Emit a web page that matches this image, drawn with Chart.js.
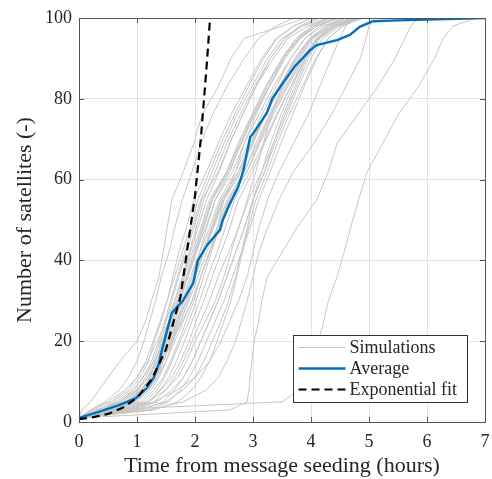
<!DOCTYPE html>
<html>
<head>
<meta charset="utf-8">
<script src="https://cdn.jsdelivr.net/npm/chart.js@4.4.0/dist/chart.umd.min.js"></script>
<style>
  html, body { margin: 0; padding: 0; background: #fff; }
</style>
</head>
<body>
<canvas id="chart" width="492" height="479"></canvas>
<script>
// axis ticks
const X_TICKS = [0, 1, 2, 3, 4, 5, 6, 7];
const Y_TICKS = [0, 20, 40, 60, 80, 100];

// satellite counts at which each simulation time is read
const LEVELS = [1, 3, 5, 8, 11, 15, 20, 25, 30, 36, 42, 48, 55, 62, 69, 76, 83, 90, 95, 98, 100];

// time (hours) at which each simulation reaches LEVELS[i]
const SIM_TIMES = [
  [0, 0.05, 0.2, 0.35, 0.5, 0.7, 1.0, 1.15, 1.25, 1.38, 1.45, 1.52, 1.6, 1.8, 1.98, 2.12, 2.4, 2.62, 2.85, 3.5, 3.9],
  [0, 0.2, 0.45, 0.7, 0.85, 1.0, 1.12, 1.22, 1.32, 1.42, 1.55, 1.65, 1.78, 1.95, 2.1, 2.3, 2.55, 2.85, 3.1, 3.4, 3.7],
  [0, 0.35, 0.6, 0.9, 1.05, 1.2, 1.3, 1.42, 1.52, 1.62, 1.72, 1.85, 1.98, 2.2, 2.4, 2.62, 2.88, 3.15, 3.4, 3.7, 4.0],
  [0, 0.5, 0.9, 1.1, 1.22, 1.32, 1.42, 1.5, 1.6, 1.72, 1.85, 1.98, 2.12, 2.4, 2.6, 2.82, 3.05, 3.35, 3.6, 3.95, 4.3],
  [0, 0.3, 0.75, 1.0, 1.15, 1.28, 1.4, 1.55, 1.68, 1.82, 1.95, 2.1, 2.25, 2.55, 2.78, 3.0, 3.25, 3.5, 3.8, 4.1, 4.45],
  [0, 0.6, 1.0, 1.2, 1.35, 1.45, 1.58, 1.7, 1.8, 1.95, 2.08, 2.2, 2.35, 2.65, 2.85, 3.1, 3.35, 3.65, 3.9, 4.2, 4.6],
  [0, 0.4, 0.7, 0.95, 1.1, 1.3, 1.48, 1.6, 1.72, 1.88, 2.02, 2.18, 2.35, 2.6, 2.8, 3.02, 3.28, 3.55, 3.8, 4.05, 4.3],
  [0, 0.7, 1.05, 1.25, 1.38, 1.5, 1.62, 1.75, 1.88, 2.0, 2.15, 2.3, 2.45, 2.75, 2.98, 3.2, 3.45, 3.75, 4.0, 4.3, 4.7],
  [0, 0.25, 0.55, 0.85, 1.0, 1.18, 1.35, 1.5, 1.65, 1.8, 1.92, 2.05, 2.2, 2.42, 2.6, 2.82, 3.05, 3.3, 3.55, 3.8, 4.1],
  [0, 0.55, 0.95, 1.15, 1.3, 1.42, 1.55, 1.68, 1.82, 1.98, 2.12, 2.28, 2.45, 2.75, 2.95, 3.2, 3.48, 3.78, 4.02, 4.35, 4.8],
  [0, 0.45, 0.8, 1.05, 1.25, 1.4, 1.52, 1.65, 1.78, 1.92, 2.08, 2.25, 2.42, 2.7, 2.92, 3.15, 3.4, 3.65, 3.9, 4.15, 4.45],
  [0, 0.8, 1.15, 1.35, 1.48, 1.6, 1.75, 1.9, 2.02, 2.15, 2.28, 2.42, 2.58, 2.85, 3.08, 3.3, 3.55, 3.85, 4.1, 4.4, 4.7],
  [0, 0.35, 0.65, 0.95, 1.1, 1.25, 1.38, 1.48, 1.58, 1.7, 1.82, 1.95, 2.1, 2.3, 2.5, 2.72, 2.98, 3.25, 3.5, 3.85, 4.3],
  [0, 0.9, 1.2, 1.4, 1.55, 1.68, 1.82, 1.95, 2.08, 2.22, 2.38, 2.52, 2.68, 2.95, 3.18, 3.4, 3.65, 3.9, 4.1, 4.4, 4.85],
  [0, 0.5, 0.85, 1.1, 1.28, 1.45, 1.6, 1.72, 1.85, 2.0, 2.15, 2.32, 2.5, 2.8, 3.0, 3.22, 3.48, 3.75, 4.0, 4.25, 4.55],
  [0, 0.3, 0.7, 1.0, 1.2, 1.35, 1.45, 1.55, 1.65, 1.78, 1.9, 2.02, 2.15, 2.35, 2.55, 2.78, 3.02, 3.3, 3.55, 3.85, 4.15],
  [0, 1.0, 1.3, 1.5, 1.65, 1.8, 1.95, 2.1, 2.25, 2.4, 2.58, 2.75, 2.92, 3.15, 3.35, 3.55, 3.75, 3.95, 4.15, 4.45, 4.8],
  [0, 0.65, 1.0, 1.2, 1.32, 1.45, 1.6, 1.75, 1.9, 2.05, 2.2, 2.38, 2.55, 2.85, 3.05, 3.28, 3.52, 3.8, 4.05, 4.3, 4.6],
  [0, 0.4, 0.75, 1.02, 1.18, 1.32, 1.45, 1.58, 1.7, 1.85, 1.98, 2.12, 2.28, 2.55, 2.75, 2.98, 3.22, 3.5, 3.75, 4.0, 4.3],
  [0, 1.1, 1.45, 1.65, 1.8, 1.95, 2.1, 2.25, 2.4, 2.55, 2.7, 2.85, 3.0, 3.2, 3.38, 3.58, 3.78, 4.0, 4.2, 4.5, 4.8],
  [0, 0.55, 0.9, 1.15, 1.3, 1.42, 1.55, 1.7, 1.85, 2.0, 2.15, 2.3, 2.48, 2.78, 2.98, 3.2, 3.45, 3.72, 3.98, 4.25, 4.6],
  [0, 0.2, 0.5, 0.8, 1.0, 1.15, 1.28, 1.4, 1.52, 1.65, 1.78, 1.92, 2.05, 2.25, 2.45, 2.68, 2.92, 3.18, 3.42, 3.7, 4.0],
  [0, 1.2, 1.55, 1.75, 1.9, 2.05, 2.2, 2.35, 2.5, 2.65, 2.8, 2.95, 3.1, 3.3, 3.48, 3.68, 3.88, 4.1, 4.3, 4.55, 4.9],
  [0, 0.75, 1.1, 1.3, 1.45, 1.58, 1.72, 1.85, 1.98, 2.1, 2.25, 2.4, 2.58, 2.9, 3.12, 3.35, 3.6, 3.88, 4.12, 4.4, 4.75],
  [0, 0.45, 0.85, 1.1, 1.25, 1.38, 1.5, 1.62, 1.75, 1.88, 2.02, 2.15, 2.3, 2.58, 2.8, 3.02, 3.28, 3.55, 3.82, 4.1, 4.4],
  [0, 1.3, 1.7, 1.95, 2.1, 2.25, 2.38, 2.5, 2.62, 2.72, 2.82, 2.92, 3.05, 3.25, 3.42, 3.62, 3.85, 4.08, 4.3, 4.55, 4.8],
  [0, 0.6, 0.95, 1.2, 1.35, 1.5, 1.65, 1.8, 1.95, 2.1, 2.25, 2.42, 2.6, 2.9, 3.1, 3.32, 3.58, 3.85, 4.1, 4.38, 4.7],
  [0, 0.85, 1.2, 1.42, 1.6, 1.75, 1.9, 2.02, 2.15, 2.3, 2.45, 2.6, 2.75, 3.0, 3.2, 3.42, 3.65, 3.9, 4.12, 4.4, 4.75],
  [0, 0.5, 0.8, 1.08, 1.22, 1.35, 1.48, 1.6, 1.72, 1.86, 2.0, 2.14, 2.3, 2.55, 2.75, 2.98, 3.22, 3.5, 3.75, 4.05, 4.35],
  [0, 1.0, 1.5, 1.8, 2.0, 2.15, 2.3, 2.45, 2.58, 2.7, 2.8, 2.9, 3.0, 3.15, 3.3, 3.48, 3.68, 3.9, 4.12, 4.4, 4.75],
  [0, 0.9, 1.35, 1.6, 1.8, 1.95, 2.1, 2.25, 2.4, 2.55, 2.7, 2.85, 3.0, 3.2, 3.35, 3.52, 3.72, 3.92, 4.15, 4.45, 4.85],
  [0, 0.7, 1.2, 1.5, 1.7, 1.85, 2.0, 2.18, 2.35, 2.5, 2.62, 2.75, 2.9, 3.05, 3.18, 3.32, 3.5, 3.72, 4.0, 4.4, 4.9],
  [0, 0.4, 0.8, 1.1, 1.3, 1.45, 1.6, 1.78, 1.95, 2.1, 2.25, 2.38, 2.5, 2.7, 2.85, 3.05, 3.28, 3.52, 3.78, 4.1, 4.5],
  [0, 0.8, 1.3, 1.7, 2.0, 2.25, 2.45, 2.6, 2.75, 2.9, 3.0, 3.1, 3.25, 3.45, 3.7, 3.95, 4.15, 4.35, 4.5, 4.6, 4.75],
  [0, 1.2, 1.8, 2.2, 2.4, 2.55, 2.7, 2.8, 2.9, 3.0, 3.1, 3.25, 3.45, 3.7, 4.05, 4.35, 4.6, 4.85, 4.95, 5.0, 5.1],
  [0, 2.6, 2.9, 2.93, 2.95, 2.98, 3.02, 3.1, 3.15, 3.25, 3.5, 3.75, 4.1, 4.3, 4.45, 4.8, 5.15, 5.45, 5.62, 5.72, 5.85],
  [0, 0.5, 3.5, 3.8, 3.95, 4.05, 4.13, 4.22, 4.3, 4.45, 4.57, 4.68, 4.82, 4.97, 5.24, 5.5, 5.85, 6.13, 6.28, 6.45, 6.85]
];

// mean over simulations
const AVG_T = [0, 0.34, 0.69, 0.98, 1.17, 1.29, 1.38, 1.43, 1.52, 1.6, 1.79, 1.97, 2.05, 2.22, 2.43, 2.48, 2.6, 2.74, 2.83, 2.95, 3.03, 3.24, 3.33, 3.52, 3.72, 3.98, 4.1, 4.45, 4.67, 4.84, 5.07, 5.5, 6.0, 6.5, 7.0];
const AVG_V = [1, 2.5, 4.2, 5.9, 8.4, 11, 14.6, 17.8, 22.8, 27, 30, 34.4, 40, 44, 47.5, 50, 54, 58, 62, 70.5, 72, 76.5, 80, 84, 88, 92, 93.3, 94.5, 95.8, 97.8, 99.2, 99.4, 99.6, 99.8, 100];

// exponential fit
const FIT_T = [0, 0.25, 0.5, 0.75, 1.0, 1.25, 1.5, 1.75, 2.0, 2.1, 2.2, 2.26];
const FIT_V = [0.7, 1.2, 2, 3.5, 6, 10.5, 18, 31, 56, 70, 88, 100];

const GREY = '#c6c6c6';
const BLUE = '#0072bd';
const FONT = "'Liberation Serif', 'Times New Roman', serif";

function simPoints(times) {
  const pts = times.map((t, i) => ({ x: t, y: LEVELS[i] }));
  pts.push({ x: 7, y: 100 });
  return pts;
}

const datasets = [];
datasets.push({
  label: 'Exponential fit',
  data: FIT_T.map((t, i) => ({ x: t, y: FIT_V[i] })),
  borderColor: '#000',
  borderWidth: 2.2,
  borderDash: [8, 5],
  pointRadius: 0,
  order: 0
});
datasets.push({
  label: 'Average',
  data: AVG_T.map((t, i) => ({ x: t, y: AVG_V[i] })),
  borderColor: BLUE,
  borderWidth: 2.4,
  pointRadius: 0,
  order: 1
});
SIM_TIMES.forEach((times, k) => {
  datasets.push({
    label: k === 0 ? 'Simulations' : '',
    data: simPoints(times),
    borderColor: GREY,
    borderWidth: 1,
    pointRadius: 0,
    order: 2
  });
});

// box round the axes, ticks pointing inward
const boxPlugin = {
  id: 'box',
  afterDatasetsDraw(chart) {
    const { ctx, chartArea: a, scales: { x, y } } = chart;
    ctx.save();
    ctx.strokeStyle = '#555';
    ctx.lineWidth = 1;
    ctx.beginPath();
    X_TICKS.forEach(v => {
      const px = Math.round(x.getPixelForValue(v)) + 0.5;
      ctx.moveTo(px, a.bottom); ctx.lineTo(px, a.bottom - 5);
      ctx.moveTo(px, a.top); ctx.lineTo(px, a.top + 5);
    });
    Y_TICKS.forEach(v => {
      const py = Math.round(y.getPixelForValue(v)) + 0.5;
      ctx.moveTo(a.left, py); ctx.lineTo(a.left + 5, py);
      ctx.moveTo(a.right, py); ctx.lineTo(a.right - 5, py);
    });
    ctx.stroke();
    ctx.strokeRect(Math.round(a.left) + 0.5, Math.round(a.top) + 0.5,
      Math.round(a.right - a.left), Math.round(a.bottom - a.top));
    ctx.restore();
  }
};

// legend in the lower right corner of the axes
const legendPlugin = {
  id: 'cornerLegend',
  afterDatasetsDraw(chart) {
    const { ctx, chartArea: a } = chart;
    const w = 174, h = 67;
    const left = Math.round(a.right - 18 - w) + 0.5;
    const top = Math.round(a.bottom - 20 - h) + 0.5;
    ctx.save();
    ctx.fillStyle = '#fff';
    ctx.fillRect(left, top, w, h);
    ctx.strokeStyle = '#333';
    ctx.lineWidth = 1;
    ctx.strokeRect(left, top, w, h);
    const rows = [
      { text: 'Simulations', color: GREY, width: 1, dash: [] },
      { text: 'Average', color: BLUE, width: 2.4, dash: [] },
      { text: 'Exponential fit', color: '#000', width: 2.2, dash: [8, 5] }
    ];
    ctx.font = '18px ' + FONT;
    ctx.textBaseline = 'middle';
    rows.forEach((r, i) => {
      const cy = top + 12 + i * 21;
      ctx.beginPath();
      ctx.strokeStyle = r.color;
      ctx.lineWidth = r.width;
      ctx.setLineDash(r.dash);
      ctx.moveTo(left + 5, cy);
      ctx.lineTo(left + 52, cy);
      ctx.stroke();
      ctx.setLineDash([]);
      ctx.fillStyle = '#262626';
      ctx.fillText(r.text, left + 56, cy + 1);
    });
    ctx.restore();
  }
};

new Chart(document.getElementById('chart'), {
  type: 'line',
  data: { datasets },
  options: {
    responsive: false,
    animation: false,
    devicePixelRatio: 1,
    layout: { padding: { left: 0, right: 7, top: 18, bottom: 0 } },
    plugins: { legend: { display: false }, tooltip: { enabled: false } },
    scales: {
      x: {
        type: 'linear',
        min: 0, max: 7,
        afterFit: s => { s.height = 57; s.paddingLeft = 0; s.paddingRight = 0; },
        afterBuildTicks: s => { s.ticks = X_TICKS.map(v => ({ value: v })); },
        grid: { color: '#e3e3e3', drawTicks: false },
        border: { display: false },
        ticks: { color: '#262626', padding: 9, font: { family: FONT, size: 18 } },
        title: {
          display: true,
          text: 'Time from message seeding (hours)',
          color: '#262626',
          font: { family: FONT, size: 22 },
          padding: { top: 0, bottom: 0 }
        }
      },
      y: {
        min: 0, max: 100,
        afterFit: s => { s.width = 79; s.paddingTop = 0; s.paddingBottom = 0; },
        afterBuildTicks: s => { s.ticks = Y_TICKS.map(v => ({ value: v })); },
        grid: { color: '#e3e3e3', drawTicks: false },
        border: { display: false },
        ticks: { color: '#262626', padding: 7, font: { family: FONT, size: 18 } },
        title: {
          display: true,
          text: 'Number of satellites (-)',
          color: '#262626',
          font: { family: FONT, size: 22 },
          padding: { top: 12, bottom: 0 }
        }
      }
    }
  },
  plugins: [boxPlugin, legendPlugin]
});
</script>
</body>
</html>
